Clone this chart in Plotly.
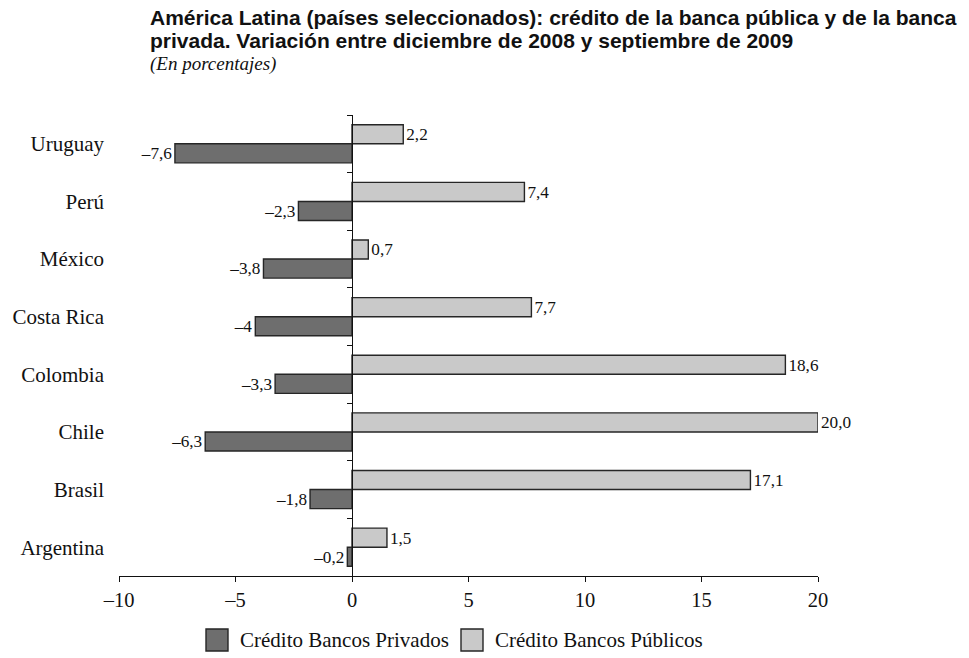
import plotly.graph_objects as go

categories = ["Argentina", "Brasil", "Chile", "Colombia", "Costa Rica", "México", "Perú", "Uruguay"]
privados = [-0.2, -1.8, -6.3, -3.3, -4.15, -3.8, -2.3, -7.6]
privados_text = ["–0,2", "–1,8", "–6,3", "–3,3", "–4", "–3,8", "–2,3", "–7,6"]
publicos = [1.5, 17.1, 20.0, 18.6, 7.7, 0.7, 7.4, 2.2]
publicos_text = ["1,5", "17,1", "20,0", "18,6", "7,7", "0,7", "7,4", "2,2"]
tick_vals = [-10, -5, 0, 5, 10, 15, 20]
tick_text = ["–10", "–5", "0", "5", "10", "15", "20"]
series_names = ["Crédito Bancos Privados", "Crédito Bancos Públicos"]
series_colors = ["#6e6e6e", "#c9c9c9"]

serif = "Liberation Serif, Times New Roman, serif"
W, H = 969, 658
ml, mr, mt, mb = 119, 151, 115, 82
PW, PH = W - ml - mr, H - mt - mb


def px_x(x):
    return (x - ml) / PW


def px_y(y):
    return (H - mb - y) / PH


fig = go.Figure()
for vals, txt, name, col in [(privados, privados_text, series_names[0], series_colors[0]),
                             (publicos, publicos_text, series_names[1], series_colors[1])]:
    fig.add_trace(go.Bar(
        y=categories, x=vals, orientation="h", name=name,
        marker=dict(color=col, line=dict(color="#262626", width=1.4)),
        text=txt, textposition="outside", cliponaxis=False,
        textfont=dict(family=serif, size=19, color="#111111"),
        showlegend=False,
    ))
# helper trace carrying categories for the zero-line axis
fig.add_trace(go.Scatter(
    y=categories, x=[0] * len(categories), yaxis="y2", mode="none",
    showlegend=False, hoverinfo="skip",
))

fig.update_layout(
    width=W, height=H,
    margin=dict(l=ml, r=mr, t=mt, b=mb),
    paper_bgcolor="white", plot_bgcolor="white",
    barmode="group", bargap=0.34, bargroupgap=0,
    font=dict(family=serif, size=20, color="#111111"),
    xaxis=dict(
        range=[-10, 20], tickvals=tick_vals, ticktext=tick_text,
        showgrid=False, zeroline=False, showline=True, linecolor="#111111", linewidth=1.4,
        ticks="outside", ticklen=5, tickcolor="#111111", tickwidth=1.4,
        tickfont=dict(family=serif, size=20.5), fixedrange=True,
    ),
    yaxis=dict(
        type="category", categoryorder="array", categoryarray=categories,
        range=[-0.5, len(categories) - 0.5],
        showgrid=False, zeroline=False, showline=False, ticks="",
        ticklabelstandoff=14, tickfont=dict(family=serif, size=21),
    ),
    yaxis2=dict(
        type="category", categoryorder="array", categoryarray=categories,
        range=[-0.5, len(categories) - 0.5], overlaying="y", anchor="free",
        position=1 / 3, showgrid=False, zeroline=False, showline=True,
        linecolor="#111111", linewidth=1.4, ticks="outside", tickson="boundaries",
        ticklen=5, tickcolor="#111111", tickwidth=1.4, showticklabels=False,
    ),
    showlegend=False,
)

# custom legend (large swatches)
legend_items = [(206, 238), (461, 493)]
for (sx, tx), name, col in zip(legend_items, series_names, series_colors):
    fig.add_shape(type="rect", xref="paper", yref="paper",
                  x0=px_x(sx), x1=px_x(sx + 22), y0=px_y(629), y1=px_y(651),
                  fillcolor=col, line=dict(color="#262626", width=1.4))
    fig.add_annotation(text=name, xref="paper", yref="paper", x=px_x(tx), y=px_y(640),
                       xanchor="left", yanchor="middle", showarrow=False,
                       font=dict(family=serif, size=21, color="#111111"))

title_lines = [
    "<b>América Latina (países seleccionados): crédito de la banca pública y de la banca</b>",
    "<b>privada. Variación entre diciembre de 2008 y septiembre de 2009</b>",
]
for line, yc in zip(title_lines, [18, 41]):
    fig.add_annotation(
        text=line, xref="paper", yref="paper", x=px_x(148), y=px_y(yc),
        xanchor="left", yanchor="middle", align="left", showarrow=False,
        font=dict(family="Liberation Sans", size=21, color="#111111"),
    )
fig.add_annotation(
    text="<i>(En porcentajes)</i>",
    xref="paper", yref="paper", x=px_x(148), y=px_y(64),
    xanchor="left", yanchor="middle", align="left", showarrow=False,
    font=dict(family=serif, size=19, color="#111111"),
)

fig.write_html("out.html")
